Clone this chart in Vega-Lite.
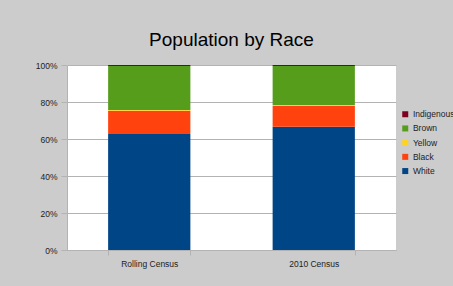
{
  "$schema": "https://vega.github.io/schema/vega-lite/v6.json",
  "width": 329,
  "height": 185,
  "autosize": "none",
  "padding": {"left": 67, "top": 65, "right": 57, "bottom": 36},
  "background": "#cccccc",
  "title": {
    "text": "Population by Race",
    "font": "Liberation Sans",
    "fontSize": 19,
    "fontWeight": "normal",
    "color": "#000000",
    "anchor": "middle",
    "frame": "group",
    "baseline": "alphabetic",
    "offset": 18,
    "dy": 22
  },
  "config": {
    "view": {"stroke": null, "fill": "#ffffff"},
    "axis": {
      "labelFont": "Liberation Sans",
      "labelFontSize": 8.5,
      "labelColor": "#222222",
      "domainColor": "#b3b3b3",
      "tickColor": "#b3b3b3",
      "gridColor": "#b3b3b3",
      "title": null
    },
    "legend": {
      "labelFont": "Liberation Sans",
      "labelFontSize": 8.5,
      "labelColor": "#222222"
    }
  },
  "data": {
    "values": [
      {"census": "Rolling Census", "race": "White", "pct": 62.7, "ord": 1},
      {"census": "Rolling Census", "race": "Black", "pct": 12.6, "ord": 2},
      {"census": "Rolling Census", "race": "Yellow", "pct": 0.4, "ord": 3},
      {"census": "Rolling Census", "race": "Brown", "pct": 23.8, "ord": 4},
      {"census": "Rolling Census", "race": "Indigenous", "pct": 0.5, "ord": 5},
      {"census": "2010 Census", "race": "White", "pct": 66.6, "ord": 1},
      {"census": "2010 Census", "race": "Black", "pct": 11.2, "ord": 2},
      {"census": "2010 Census", "race": "Yellow", "pct": 0.6, "ord": 3},
      {"census": "2010 Census", "race": "Brown", "pct": 21.1, "ord": 4},
      {"census": "2010 Census", "race": "Indigenous", "pct": 0.5, "ord": 5}
    ]
  },
  "mark": {"type": "bar"},
  "encoding": {
    "x": {
      "field": "census",
      "type": "nominal",
      "sort": ["Rolling Census", "2010 Census"],
      "scale": {"paddingInner": 0.5, "paddingOuter": 0.25},
      "axis": {
        "labelAngle": 0,
        "tickBand": "extent",
        "tickSize": 5,
        "labelPadding": 4,
        "grid": false
      }
    },
    "y": {
      "field": "pct",
      "type": "quantitative",
      "stack": "normalize",
      "axis": {
        "format": ".0%",
        "values": [0, 0.2, 0.4, 0.6, 0.8, 1],
        "tickSize": 6,
        "labelPadding": 4,
        "grid": true
      }
    },
    "color": {
      "field": "race",
      "type": "nominal",
      "scale": {
        "domain": ["Indigenous", "Brown", "Yellow", "Black", "White"],
        "range": ["#7e0021", "#579d1c", "#ffd320", "#ff420e", "#004586"]
      },
      "legend": {
        "title": null,
        "orient": "none",
        "legendX": 334,
        "legendY": 45,
        "padding": 0,
        "symbolType": "square",
        "symbolSize": 36,
        "symbolStrokeWidth": 0,
        "labelOffset": 3.4,
        "rowPadding": 5.2
      }
    },
    "order": {"field": "ord", "type": "quantitative"}
  }
}
